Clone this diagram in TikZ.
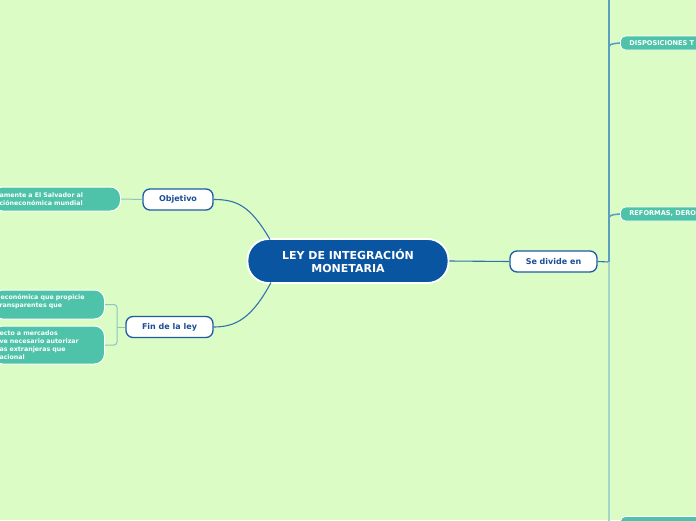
\documentclass[tikz,border=0pt]{standalone}
\usepackage{fontspec}
\setmainfont{DejaVu Sans}
\usetikzlibrary{arrows.meta,positioning}
\definecolor{bgmap}{HTML}{DCFCC6}
\definecolor{mainblue}{HTML}{0A55A2}
\definecolor{edgeblue}{HTML}{1E5BA6}
\definecolor{textblue}{HTML}{1A4E96}
\definecolor{leafteal}{HTML}{4EC3A9}
\definecolor{linkblue}{HTML}{3472AE}
\definecolor{trunkblue}{HTML}{5C9EC2}
\definecolor{trunklight}{HTML}{A2D6C8}
\definecolor{leaflink}{HTML}{8CC4C0}

\begin{document}
\begin{tikzpicture}[
  x=1pt, y=-1pt,
  font=\bfseries,
  central/.style={
    draw=white,
    line width=1.8pt,
    fill=mainblue,
    text=white,
    rounded corners=21pt,
    minimum width=201pt,
    minimum height=44pt,
    align=center,
    font=\bfseries\fontsize{11}{13}\selectfont
  },
  topic/.style={
    draw=edgeblue,
    line width=1.3pt,
    fill=white,
    text=textblue,
    rounded corners=7pt,
    minimum height=21pt,
    inner sep=0pt,
    font=\bfseries\fontsize{8}{10}\selectfont
  },
  leaf/.style={
    draw=white,
    line width=1pt,
    fill=leafteal,
    text=white,
    rounded corners=10pt,
    align=left,
    inner xsep=7pt,
    inner ysep=0pt,
    font=\bfseries\fontsize{6.3}{8}\selectfont
  },
  part/.style={
    draw=white,
    line width=0.8pt,
    fill=leafteal,
    text=white,
    rounded corners=5pt,
    align=left,
    text width=110pt,
    minimum height=14pt,
    inner xsep=9pt,
    inner ysep=0pt,
    font=\bfseries\fontsize{6.6}{8}\selectfont
  },
  mainlink/.style={draw=linkblue,line width=1.1pt},
  leaflinkline/.style={draw=leaflink,line width=1pt,rounded corners=3pt},
  trunk/.style={draw=trunkblue,line width=1.6pt},
  trunkpale/.style={draw=trunklight,line width=1.6pt}
]
  \useasboundingbox (0,0) rectangle (696,520);
  \clip (0,0) rectangle (696,520);
  \fill[bgmap] (0,0) rectangle (696,520);

  % centre and main topics
  \node[central] (ley) at (348,261) {LEY DE INTEGRACIÓN\\MONETARIA};
  \node[topic,minimum width=70pt] (objetivo) at (178,199.5) {Objetivo};
  \node[topic,minimum width=87pt] (fin) at (169.5,327) {Fin de la ley};
  \node[topic,minimum width=87pt] (divide) at (553.5,261.5) {Se divide en};

  % leaves on the left, cut by the page edge
  \node[leaf,text width=114pt,minimum height=24pt,anchor=west] (objleaf) at (-8,199)
    {amente a El Salvador al\\cióneconómica mundial};
  \node[leaf,text width=98pt,minimum height=29pt,anchor=west] (finleafa) at (-8,304.5)
    {\,económica que propicie\\ransparentes que\\\mbox{}};
  \node[leaf,text width=98pt,minimum height=38pt,anchor=west] (finleafb) at (-8,345)
    {ecto a mercados\\ve necesario autorizar\\as extranjeras que\\acional};

  % parts on the right, cut by the page edge
  \node[part,anchor=west] (disposiciones) at (620,43) {DISPOSICIONES T};
  \node[part,anchor=west] (reformas) at (620,214) {REFORMAS, DEROG};
  \node[part,anchor=north west] (ultima) at (620,516) {};

  \coordinate (junction) at (609,262);
  \coordinate (trunktop) at (609,-2);
  \coordinate (trunkbottom) at (609,522);
  \coordinate (dispfoot) at (609,50);
  \coordinate (reffoot) at (609,221);
  \coordinate (finfork) at (117,327);

  % connectors
  \draw[mainlink] (270,239.5) .. controls (250,205) and (236,199.5) .. (objetivo.east);
  \draw[mainlink] (271,282.5) .. controls (252,318) and (236,327) .. (fin.east);
  \draw[mainlink] (ley.east) -- (divide.west);
  \draw[mainlink] (divide.east) -- (junction);

  \draw[trunkpale] (junction) -- (trunkbottom);
  \draw[trunk] (junction) -- (trunktop);
  \draw[trunk] (dispfoot) .. controls (609,44) .. (disposiciones.west);
  \draw[trunk] (reffoot) .. controls (609,215) .. (reformas.west);

  \draw[leaflinkline] (objetivo.west) -- (objleaf.east);
  \draw[leaflinkline] (fin.west) -- (finfork);
  \draw[leaflinkline] (finleafa.east) -| (finfork) |- (finleafb.east);
\end{tikzpicture}
\end{document}
